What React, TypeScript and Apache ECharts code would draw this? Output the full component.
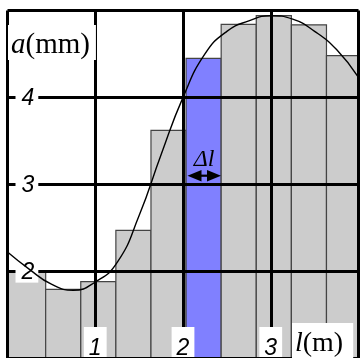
import React, { useEffect, useRef } from "react";
import * as echarts from "echarts";

// Bin edges (l, m) and bar heights (a, mm)
const binEdges = [0, 0.435, 0.835, 1.235, 1.635, 2.035, 2.435, 2.835, 3.235, 3.635, 4.035];
const barValues = [1.99, 1.79, 1.88, 2.47, 3.62, 4.45, 4.84, 4.94, 4.835, 4.48];
const highlightIndex = 5;

// Points of the smooth curve a(l)
const curveL = [0, 0.25, 0.5, 0.75, 1.0, 1.25, 1.5, 1.75, 2.0, 2.25, 2.5, 2.75, 3.0, 3.25, 3.5, 3.75, 4.0];
const curveA = [2.22, 2.02, 1.85, 1.78, 1.875, 2.1, 2.64, 3.34, 4.0, 4.5, 4.76, 4.88, 4.94, 4.9, 4.76, 4.55, 4.23];

const xMin = 0;
const xMax = 4;
const yMin = 1;
const yMax = 5;
const tickStep = 1;

const deltaName = "Δl";

export default function App() {
  const ref = useRef<HTMLDivElement>(null);

  useEffect(() => {
    if (!ref.current) return;
    const chart = echarts.init(ref.current, null, { renderer: "svg" });

    const barData = barValues.map((v, i) => [
      binEdges[i],
      binEdges[i + 1],
      v,
      i === highlightIndex ? 1 : 0,
    ]);

    const tickFont = {
      color: "#000",
      fontFamily: "Liberation Sans",
      fontStyle: "italic" as const,
      fontSize: 23,
      backgroundColor: "#fff",
    };

    const option: any = {
      animation: false,
      grid: { left: 7.5, right: 1.5, top: 10.5, bottom: -4.5, containLabel: false },
      xAxis: {
        type: "value",
        min: xMin,
        max: xMax,
        interval: tickStep,
        z: 3,
        axisLine: { show: false },
        axisTick: { show: false },
        splitLine: { show: true, lineStyle: { color: "#000", width: 3 } },
        axisLabel: {
          ...tickFont,
          inside: true,
          showMinLabel: false,
          showMaxLabel: false,
          margin: 0,
          padding: [8, 5, 0, 5],
        },
      },
      yAxis: {
        type: "value",
        min: yMin,
        max: yMax,
        interval: tickStep,
        z: 4,
        axisLine: { show: false },
        axisTick: { show: false },
        splitLine: { show: true, lineStyle: { color: "#000", width: 3 } },
        axisLabel: {
          ...tickFont,
          inside: true,
          showMinLabel: false,
          showMaxLabel: false,
          margin: 8,
          padding: [0, 4, 0, 6],
        },
      },
      series: [
        {
          type: "custom",
          z: 2,
          clip: false,
          data: barData,
          encode: { x: [0, 1], y: 2 },
          renderItem: (_params: any, api: any) => {
            const p0 = api.coord([api.value(0), api.value(2)]);
            const p1 = api.coord([api.value(1), yMin]);
            const hl = api.value(3) === 1;
            return {
              type: "rect",
              shape: { x: p0[0], y: p0[1], width: p1[0] - p0[0], height: p1[1] - p0[1] },
              style: { fill: hl ? "#8080ff" : "#cccccc", stroke: "#444", lineWidth: 1.2 },
            };
          },
        },
        {
          type: "line",
          z: 6,
          data: curveL.map((l, i) => [l, curveA[i]]),
          smooth: 0.5,
          symbol: "none",
          lineStyle: { color: "#000", width: 1.4 },
        },
      ],
      graphic: [
        {
          type: "text",
          z: 100,
          x: 8,
          y: 25,
          style: {
            text: "{i|a}{r|(mm)}",
            rich: {
              i: { fontFamily: "Liberation Serif", fontStyle: "italic", fontSize: 29, fill: "#000" },
              r: { fontFamily: "Liberation Serif", fontSize: 29, fill: "#000" },
            },
            backgroundColor: "#fff",
            padding: [3, 6, 3, 3],
            align: "left",
            verticalAlign: "top",
          },
        },
        {
          type: "text",
          z: 100,
          x: 292,
          y: 323,
          style: {
            text: "{i|l}{r|(m)}",
            rich: {
              i: { fontFamily: "Liberation Serif", fontStyle: "italic", fontSize: 28, fill: "#000" },
              r: { fontFamily: "Liberation Serif", fontSize: 28, fill: "#000" },
            },
            backgroundColor: "#fff",
            padding: [4, 10, 8, 3],
            align: "left",
            verticalAlign: "top",
          },
        },
        {
          type: "text",
          z: 100,
          x: 204,
          y: 158,
          style: {
            text: deltaName,
            fontFamily: "Liberation Serif",
            fontStyle: "italic",
            fontSize: 24,
            fill: "#000",
            align: "center",
            verticalAlign: "middle",
          },
        },
        {
          type: "polygon",
          z: 100,
          shape: { points: [[187.5, 175.7], [201.5, 170], [201.5, 181.5]] },
          style: { fill: "#000" },
        },
        {
          type: "polygon",
          z: 100,
          shape: { points: [[221, 175.7], [207, 170], [207, 181.5]] },
          style: { fill: "#000" },
        },
        {
          type: "line",
          z: 100,
          shape: { x1: 200, y1: 175.7, x2: 208, y2: 175.7 },
          style: { stroke: "#000", lineWidth: 2.2 },
        },
      ],
    };

    chart.setOption(option);
    return () => chart.dispose();
  }, []);

  return (
    <div
      ref={ref}
      style={{ position: "fixed", left: 0, top: 0, width: 360, height: 358 }}
    />
  );
}
